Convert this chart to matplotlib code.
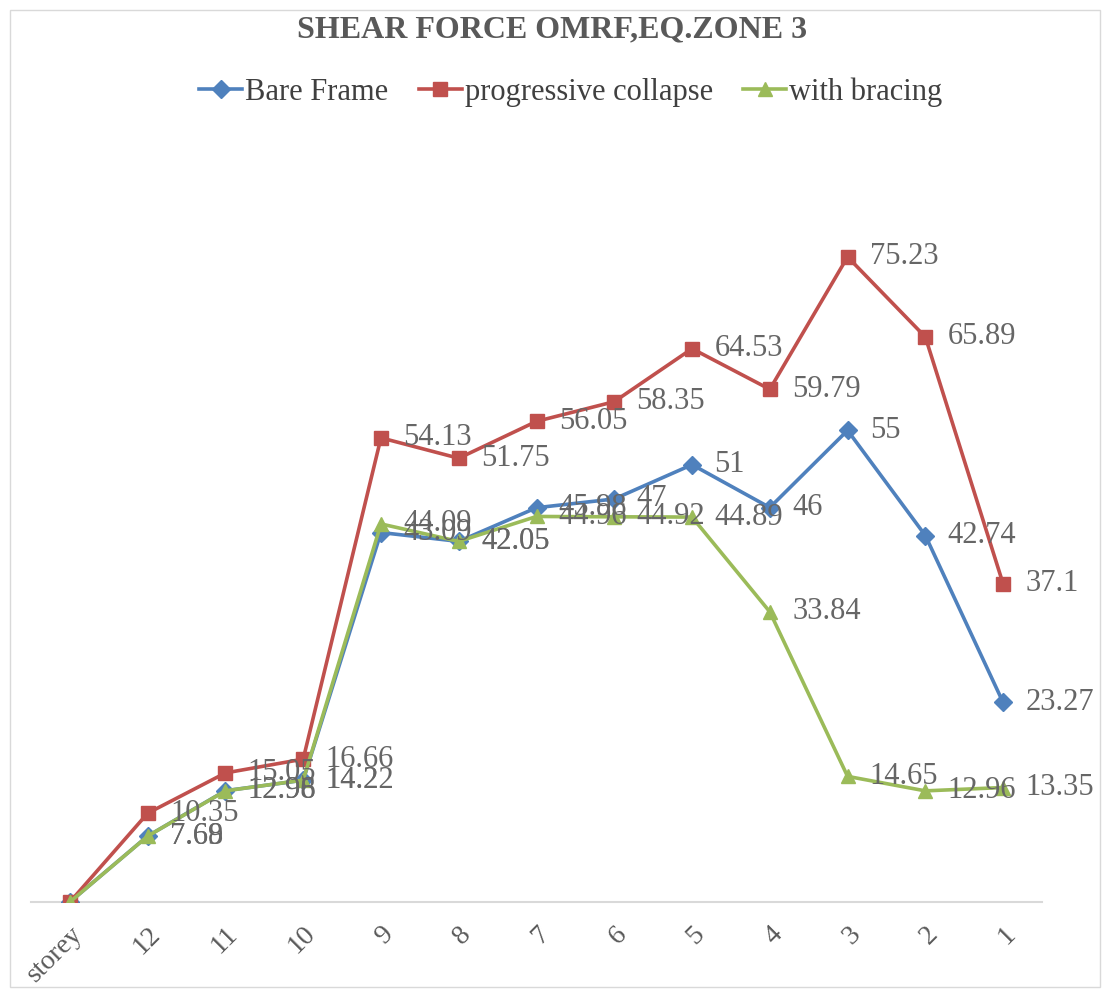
import matplotlib
matplotlib.use("Agg")
import matplotlib.pyplot as plt
from matplotlib.patches import Rectangle

plt.rcParams['font.family'] = ['Liberation Serif', 'DejaVu Serif']

categories = ["storey", "12", "11", "10", "9", "8", "7", "6", "5", "4", "3", "2", "1"]
bare_frame = [0, 7.69, 12.98, 14.2, 43.09, 42.05, 45.98, 47, 51, 46, 55, 42.74, 23.27]
progressive = [0, 10.35, 15.05, 16.66, 54.13, 51.75, 56.05, 58.35, 64.53, 59.79, 75.23, 65.89, 37.1]
bracing = [0, 7.68, 12.96, 14.22, 44.09, 42.05, 44.96, 44.92, 44.89, 33.84, 14.65, 12.96, 13.35]

series = [
    ("Bare Frame", bare_frame, "#4F81BD", "D", 9),
    ("progressive collapse", progressive, "#C0504D", "s", 10),
    ("with bracing", bracing, "#9BBB59", "^", 10),
]

W, H = 1102, 989
fig = plt.figure(figsize=(W / 100, H / 100), dpi=100)
ax = fig.add_axes([31 / W, (H - 902) / H, (1042 - 31) / W, (902 - 216) / H])

x = list(range(len(categories)))
for name, vals, col, mk, ms in series:
    ax.plot(x, vals, color=col, lw=2.6, marker=mk, markersize=ms,
            markeredgecolor=col, markerfacecolor=col, label=name, zorder=3)

for name, vals, col, mk, ms in series:
    for xi, v in zip(x, vals):
        if v == 0:
            continue
        ax.annotate(f"{v:g}", (xi, v), xytext=(16, 0), textcoords="offset points",
                    ha="left", va="center", fontsize=22, color="#666666", zorder=5)

ax.set_xlim(-0.5, len(categories) - 0.5)
ax.set_ylim(0, 80)
ax.set_xticks(x)
ax.set_xticklabels(categories, rotation=45, ha="right", rotation_mode="anchor",
                   fontsize=20, color="#595959")
ax.tick_params(axis="x", length=0, pad=14)
ax.set_yticks([])
for s in ["top", "right", "left"]:
    ax.spines[s].set_visible(False)
ax.spines["bottom"].set_color("#D9D9D9")
ax.spines["bottom"].set_linewidth(1.5)
ax.spines["bottom"].set_zorder(1)

fig.text(552 / W, 1 - 30 / H, "SHEAR FORCE OMRF,EQ.ZONE 3", ha="center", va="center",
         fontsize=23, fontweight="bold", color="#595959")

leg = fig.legend(loc="center", bbox_to_anchor=(571 / W, 1 - 92 / H), ncol=3, frameon=False,
                 fontsize=22, handlelength=1.4, columnspacing=1.0, handletextpad=0.1,
                 labelcolor="#404040")

fig.patches.append(Rectangle((10 / W, 2 / H), (W - 12) / W, (H - 12) / H,
                             transform=fig.transFigure, fill=False,
                             edgecolor="#D9D9D9", lw=1.0))

fig.savefig("out.png", dpi=100, facecolor="white")
